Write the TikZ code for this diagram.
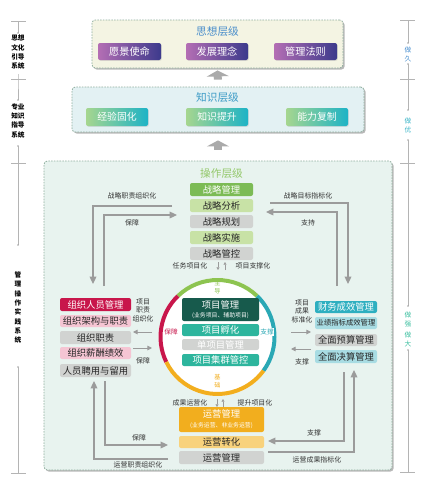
\documentclass[tikz,border=0pt]{standalone}
\usepackage{fontspec}
\setmainfont{Noto Sans CJK SC}
\usetikzlibrary{arrows.meta,shadows}
\definecolor{thinkfill}{HTML}{F4F4E3}
\definecolor{knowfill}{HTML}{E3F1F3}
\definecolor{opfill}{HTML}{E8F3EF}
\definecolor{dashc}{HTML}{8FAE9E}
\definecolor{purpA}{HTML}{B46EB4}
\definecolor{purpB}{HTML}{3C3A8C}
\definecolor{grnA}{HTML}{A6D68F}
\definecolor{cyaB}{HTML}{1DB3C6}
\definecolor{ttlblue}{HTML}{4A8ECB}
\definecolor{ttlcyan}{HTML}{3C9BC6}
\definecolor{ttlgreen}{HTML}{93C86A}
\definecolor{sgreen}{HTML}{7CBB55}
\definecolor{slight}{HTML}{C8E2A6}
\definecolor{sgray}{HTML}{D1D3D1}
\definecolor{crim}{HTML}{C8164B}
\definecolor{pink}{HTML}{F5C5D3}
\definecolor{tealA}{HTML}{2EAFC0}
\definecolor{lcyan}{HTML}{A8DCE3}
\definecolor{dgreen}{HTML}{175A4C}
\definecolor{tgreen}{HTML}{2DB59D}
\definecolor{gold}{HTML}{F2AE1E}
\definecolor{lgold}{HTML}{F8D27C}
\definecolor{rgreen}{HTML}{8DC450}
\definecolor{rteal}{HTML}{2AA8B5}
\definecolor{arrg}{HTML}{9B9B9B}
\definecolor{sclg}{HTML}{B4B4B4}
\definecolor{zj}{HTML}{4A90D0}
\definecolor{zy}{HTML}{3BB5C8}
\definecolor{zq}{HTML}{3CBFA0}
\newcommand\mkbox[7]{\node[bx,#6,minimum width={(#4-#2)*0.75pt},minimum height={(#5-#3)*0.75pt}] (#1) at ({(#2+#4)/2},{(#3+#5)/2}) {#7};}
\tikzset{
  bx/.style={rounded corners=1.5pt, inner sep=0pt, align=center, font=\fontsize{7}{8}\selectfont},
  bigbox/.style={bx, draw=dashc, dash pattern=on 1.2pt off 0.9pt, line width=0.6pt,
     drop shadow={shadow xshift=1.2pt,shadow yshift=-1.2pt,fill=black,opacity=0.28}, rounded corners=2.5pt},
  pbtn/.style={left color=purpA, right color=purpB, text=white, font=\fontsize{7.6}{8}\selectfont,
     drop shadow={shadow xshift=0.6pt,shadow yshift=-0.6pt,opacity=0.2}},
  gbtn/.style={left color=grnA, right color=cyaB, text=white, font=\fontsize{7.4}{8}\selectfont,
     drop shadow={shadow xshift=0.6pt,shadow yshift=-0.6pt,opacity=0.2}},
  lbl/.style={inner sep=0pt, font=\fontsize{5.2}{6.2}\selectfont, text=black!80, align=center},
  loopar/.style={draw=arrg, line width=0.9pt, -{Triangle[length=5.5pt,width=5pt]}},
  smar/.style={draw=arrg, line width=0.7pt, -{Triangle[length=3.5pt,width=3.5pt]}},
  tiny/.style={draw=arrg, line width=0.45pt, -{Triangle[length=2pt,width=2.2pt]}},
  blockar/.style={draw=arrg!85, line width=6pt, -{Triangle[length=4.5pt,width=16.5pt]}},
  scl/.style={draw=sclg, line width=0.5pt},
  sdot/.style={circle, fill=gray!70, inner sep=0pt, minimum size=1.3pt},
  vt/.style={inner sep=0pt, align=center, font=\fontsize{5}{7}\selectfont\bfseries},
}
\begin{document}
\begin{tikzpicture}[x=0.75pt,y=-0.75pt]
\useasboundingbox (0,0) rectangle (428,489);
\fill[white] (0,0) rectangle (428,489);

% ---------- left scale ----------
\foreach \yy in {21,79,163,473} \draw[scl] (11,\yy) -- (26,\yy);
\draw[scl] (18,21) -- (18,33); \node[sdot] (ld1) at (18,33) {};
\node[vt] (lt1) at (18,52.5) {思想\\文化\\引导\\系统};
\draw[scl] (18,74) -- (18,79) -- (18,100); \node[sdot] (ld2) at (18,100) {};
\node[vt] (lt2) at (18,120.5) {专业\\知识\\指导\\系统};
\node[sdot] (ld3) at (18,146) {};
\draw[scl] (18,146) -- (18,245); \node[sdot] (ld4) at (18,245) {};
\node[vt] (lt3) at (18,307.5) {管\\理\\操\\作\\实\\践\\系\\统};
\node[sdot] (ld5) at (18,367) {};
\draw[scl] (18,367) -- (18,473);

% ---------- right scale ----------
\foreach \yy in {20,79,163,472} \draw[scl] (400,\yy) -- (415,\yy);
\draw[scl] (408,20) -- (408,43); \node[sdot] (rd1) at (408,43) {};
\node[vt,text=zj,font=\fontsize{5}{7}\selectfont] (rt1) at (408,54.5) {做\\久};
\node[sdot] (rd2) at (408,64) {};
\draw[scl] (408,64) -- (408,110); \node[sdot] (rd3) at (408,110) {};
\node[vt,text=zy,font=\fontsize{5}{7}\selectfont] (rt2) at (408,125.5) {做\\优};
\node[sdot] (rd4) at (408,140) {};
\draw[scl] (408,140) -- (408,306); \node[sdot] (rd5) at (408,306) {};
\node[vt,text=zq,font=\fontsize{5}{7}\selectfont] (rt3) at (408,329.5) {做\\强\\[1.2pt]做\\大};
\node[sdot] (rd6) at (408,350) {};
\draw[scl] (408,350) -- (408,472);

% ---------- big boxes ----------
\mkbox{think}{92}{20}{343}{68}{bigbox,fill=thinkfill}{}
\mkbox{know}{72}{87}{364}{132}{bigbox,fill=knowfill}{}
\mkbox{op}{44}{161}{392}{470}{bigbox,fill=opfill}{}

\draw[blockar, shorten >=1.5pt, shorten <=5.25pt] (know.north) -- (think.south);
\draw[blockar, shorten >=6pt, shorten <=8.25pt] (op.north) -- (know.south);

% ---------- think level ----------
\node[inner sep=0pt, text=ttlblue, font=\fontsize{8}{9}\selectfont] (tt) at (217.5,31) {思想层级};
\mkbox{t1}{98}{43}{161}{60}{pbtn}{愿景使命}
\mkbox{t2}{186}{43}{248}{60}{pbtn}{发展理念}
\mkbox{t3}{274}{43}{337}{60}{pbtn}{管理法则}

% ---------- knowledge level ----------
\node[inner sep=0pt, text=ttlcyan, font=\fontsize{8}{9}\selectfont] (kt) at (217.5,97) {知识层级};
\mkbox{k1}{86}{108}{148}{126}{gbtn}{经验固化}
\mkbox{k2}{186}{108}{248}{126}{gbtn}{知识提升}
\mkbox{k3}{286}{108}{348}{126}{gbtn}{能力复制}

% ---------- operation level ----------
\node[inner sep=0pt, text=ttlgreen, font=\fontsize{8}{9}\selectfont] (ot) at (221.5,173) {操作层级};
\mkbox{s1}{190}{183}{253}{196}{fill=sgreen,text=white}{战略管理}
\mkbox{s2}{190}{199}{253}{212}{fill=slight,text=black!85}{战略分析}
\mkbox{s3}{190}{215}{253}{228}{fill=sgray,text=black!85}{战略规划}
\mkbox{s4}{190}{231}{253}{244}{fill=slight,text=black!85}{战略实施}
\mkbox{s5}{190}{247}{253}{260}{fill=sgray,text=black!85}{战略管控}

% circle
\node[circle, fill=white, inner sep=0pt, minimum size=88.5pt] (ring) at (217.5,337) {};
\draw[rgreen, line width=3pt] ([shift={(46:42.75pt)}]ring.center) arc[start angle=46, end angle=134, radius=42.75pt];
\draw[crim, line width=3pt] ([shift={(134:42.75pt)}]ring.center) arc[start angle=134, end angle=206, radius=42.75pt];
\draw[gold, line width=3pt] ([shift={(206:42.75pt)}]ring.center) arc[start angle=206, end angle=324, radius=42.75pt];
\draw[rteal, line width=3pt] ([shift={(324:42.75pt)}]ring.center) arc[start angle=324, end angle=406, radius=42.75pt];
\node[lbl, text=rgreen, font=\fontsize{4.6}{5.6}\selectfont] (rl1) at (217.5,287) {主\\导};
\node[lbl, text=gold, font=\fontsize{4.6}{5.6}\selectfont] (rl2) at (217.5,381) {基\\础};
\node[lbl, text=crim, fill=white, inner sep=0.4pt, font=\fontsize{5}{6}\selectfont] (rl3) at (171,332) {保障};
\node[lbl, text=rteal, fill=white, inner sep=0.4pt, font=\fontsize{5}{6}\selectfont] (rl4) at (267,332) {支撑};

\mkbox{p1}{182}{298}{259}{321}{fill=dgreen,text=white,font=\fontsize{7}{7.5}\selectfont}{项目管理\\[-0.5pt]{\fontsize{4.4}{5}\selectfont (业务项目、辅助项目)}}
\mkbox{p2}{182}{324}{259}{336}{fill=tgreen,text=white}{项目孵化}
\mkbox{p3}{182}{339}{259}{350}{fill=sgray,text=white}{单项目管理}
\mkbox{p4}{182}{354}{259}{366}{fill=tgreen,text=white}{项目集群管控}

% operations
\mkbox{o1}{179}{407}{264}{432}{fill=gold,text=white,font=\fontsize{7}{7.5}\selectfont}{运营管理\\[0pt]{\fontsize{4.4}{5}\selectfont (业务运营、非业务运营)}}
\mkbox{o2}{179}{436}{264}{448}{fill=lgold,text=black!85}{运营转化}
\mkbox{o3}{179}{451}{264}{464}{fill=sgray,text=black!85}{运营管理}

% left column
\mkbox{l1}{60}{298}{131}{311}{fill=crim,text=white}{组织人员管理}
\mkbox{l2}{60}{315}{131}{327}{fill=pink,text=black!85}{组织架构与职责}
\mkbox{l3}{60}{331}{131}{344}{fill=sgray,text=black!85}{组织职责}
\mkbox{l4}{60}{347}{131}{359}{fill=pink,text=black!85}{组织薪酬绩效}
\mkbox{l5}{60}{364}{131}{377}{fill=sgray,text=black!85}{人员聘用与留用}

% right column
\mkbox{r1}{315}{301}{377}{313}{fill=tealA,text=white}{财务成效管理}
\mkbox{r2}{315}{317}{377}{329}{fill=lcyan,text=black!85,font=\fontsize{5.5}{6}\selectfont}{业绩指标成效管理}
\mkbox{r3}{315}{334}{377}{346}{fill=sgray,text=black!85}{全面预算管理}
\mkbox{r4}{315}{350}{377}{363}{fill=lcyan,text=black!85}{全面决算管理}

% ---------- loop connectors ----------
\coordinate (lto1) at (172,206); \coordinate (lto2) at (93,284);
\coordinate (lti1) at (104,286); \coordinate (lti2) at (177,215);
\coordinate (lbo1) at (168,459); \coordinate (lbo2) at (94,381);
\coordinate (lbi1) at (105,381); \coordinate (lbi2) at (168,445);
\coordinate (rto1) at (270,203); \coordinate (rto2) at (348,284);
\coordinate (rti1) at (337,286); \coordinate (rti2) at (266,212);
\coordinate (rbi1) at (344,372); \coordinate (rbi2) at (268,441);
\coordinate (rbo1) at (268,452); \coordinate (rbo2) at (354,370);
\draw[loopar] (lto1) -| (lto2);
\draw[loopar] (lti1) |- (lti2);
\draw[loopar] (lbo1) -| (lbo2);
\draw[loopar] (lbi1) |- (lbi2);
\draw[loopar] (rto1) -| (rto2);
\draw[loopar] (rti1) |- (rti2);
\draw[loopar] (rbi1) |- (rbi2);
\draw[loopar] (rbo1) -| (rbo2);

\node[lbl] (a1) at (132,196) {战略职责组织化};
\node[lbl] (a2) at (132,223) {保障};
\node[lbl] (a3) at (308,196) {战略目标指标化};
\node[lbl] (a4) at (308,223) {支持};
\node[lbl] (a5) at (139,438) {保障};
\node[lbl] (a6) at (138,465) {运营职责组织化};
\node[lbl] (a7) at (314,433) {支撑};
\node[lbl] (a8) at (317,460) {运营成果指标化};

% short arrows beside columns
\coordinate (la1) at (152,332); \coordinate (la2) at (133,332);
\coordinate (la3) at (133,348); \coordinate (la4) at (152,348);
\draw[smar] (la1) -- (la2);
\draw[smar] (la3) -- (la4);
\node[lbl] (b1) at (143,310.5) {项目\\职责\\组织化};
\node[lbl] (b2) at (143,361) {保障};
\coordinate (ra1) at (291,332); \coordinate (ra2) at (311,332);
\coordinate (ra3) at (311,349); \coordinate (ra4) at (291,349);
\draw[smar] (ra1) -- (ra2);
\draw[smar] (ra3) -- (ra4);
\node[lbl] (b3) at (302,311.5) {项目\\成果\\标准化};
\node[lbl] (b4) at (302,362) {支撑};

% tiny arrows and labels around the circle
\node[lbl] (c1) at (190,266) {任务项目化};
\node[lbl] (c2) at (253,266) {项目支撑化};
\coordinate (ta1) at (218,262); \coordinate (ta2) at (218,270);
\coordinate (ta3) at (225,270); \coordinate (ta4) at (225,262);
\draw[tiny] (ta1) -- (ta2);
\draw[tiny] (ta3) -- (ta4);
\node[lbl] (c3) at (190,403) {成果运营化};
\node[lbl] (c4) at (255,403) {提升项目化};
\coordinate (tb1) at (217,399); \coordinate (tb2) at (217,407);
\coordinate (tb3) at (223,407); \coordinate (tb4) at (223,399);
\draw[tiny] (tb1) -- (tb2);
\draw[tiny] (tb3) -- (tb4);
\end{tikzpicture}
\end{document}
